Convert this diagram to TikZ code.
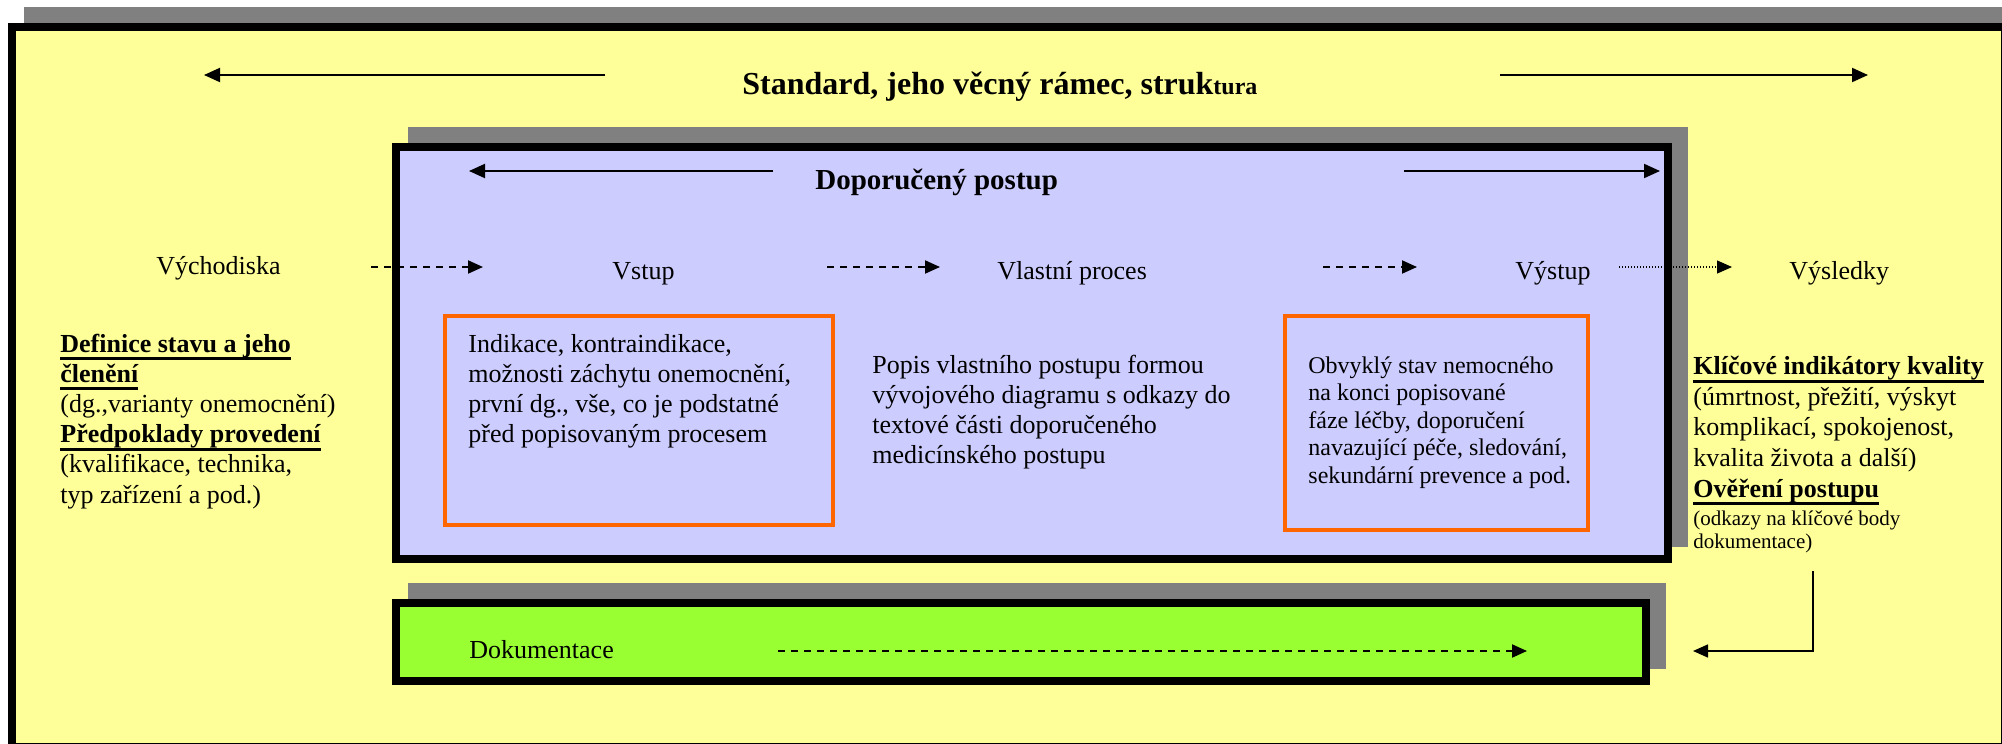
\documentclass[tikz,border=0pt]{standalone}
\usepackage{fontspec}
\setmainfont{Liberation Serif}
\usepackage{xcolor}
\usepackage{tikz}
\usetikzlibrary{shadows}
\usetikzlibrary{positioning, arrows.meta}

\definecolor{framefill}{HTML}{FFFF99}
\definecolor{procfill}{HTML}{CCCCFF}
\definecolor{docfill}{HTML}{99FF33}
\definecolor{shadowgray}{HTML}{808080}
\definecolor{boxorange}{HTML}{FF6600}

% bold text with a heavy underline
\newcommand{\ulbf}[1]{\setbox0=\hbox{\bfseries #1}\rlap{\rule[-4pt]{\wd0}{1.4pt}}\box0}

\begin{document}
\begin{tikzpicture}[x=0.5pt, y=-0.5pt,
        % Define styles for frames, boxes, texts and arrows
        bigframe/.style={draw, line width=4pt, rectangle, inner sep=0pt,
            general shadow={draw=shadowgray, fill=shadowgray, shadow xshift=8pt, shadow yshift=8pt}},
        notebox/.style={draw=boxorange, line width=1.75pt, rectangle, inner sep=0pt},
        steplabel/.style={inner sep=0pt, anchor=base west, font=\fontsize{13}{15}\selectfont},
        % multi-line texts: placed at the baseline of their last line
        para/.style={inner sep=0pt, anchor=base west, align=left, font=\fontsize{13}{15.1}\selectfont},
        solidarrow/.style={line width=1pt, -{Triangle[length=8pt, width=7pt]}},
        dasharrow/.style={line width=1pt, dash pattern=on 3.5pt off 3pt, -{Triangle[length=7.5pt, width=6.5pt]}},
        dotarrow/.style={line width=0.6pt, dash pattern=on 0.6pt off 0.9pt, -{Triangle[length=7.5pt, width=6.5pt]}},
        thinarrow/.style={line width=0.75pt, -{Triangle[length=7.5pt, width=6.5pt]}}
    ]
    \useasboundingbox (0,0) rectangle (2002,744);
    \clip (0,0) rectangle (2002,744);

    % --- FRAMES & BOXES ---
    % Standard frame
    \node[bigframe, fill=framefill, minimum width=996.5pt, minimum height=360pt] (std) at (1008.5,387) {};

    % Recommended procedure
    \node[bigframe, fill=procfill, minimum width=636pt, minimum height=206pt] (proc) at (1032,353) {};

    % Documentation
    \node[bigframe, fill=docfill, minimum width=625pt, minimum height=39pt] (doc) at (1021,642) {};

    % Input and output boxes
    \node[notebox, minimum width=194pt, minimum height=104.5pt] (inbox) at (639,420.5) {};
    \node[notebox, minimum width=151.5pt, minimum height=107pt] (outbox) at (1436.5,423) {};


    % --- TITLES ---
    \node[inner sep=0pt, anchor=base west, font=\fontsize{16}{19}\selectfont\bfseries] (title) at (742,94)
        {Standard, jeho věcný rámec, struk{\fontsize{12}{14}\selectfont tura}};
    \node[inner sep=0pt, anchor=base west, font=\fontsize{14.5}{17}\selectfont\bfseries] (dptitle) at (815,189)
        {Doporučený postup};


    % --- STEPS ---
    \node[steplabel] (vych) at (156,274) {Východiska};
    \node[steplabel] (vstup) at (612,279) {Vstup};
    \node[steplabel] (proces) at (997,279) {Vlastní proces};
    \node[steplabel] (vystup) at (1515,279) {Výstup};
    \node[steplabel] (vysl) at (1789,279) {Výsledky};
    \node[steplabel] (dokum) at (469,658) {Dokumentace};


    % --- TEXTS ---
    % Starting points
    \node[para] (defin) at (60,503)
        {\ulbf{Definice stavu a jeho}\\ \ulbf{členění}\\ (dg.,varianty onemocnění)\\
         \ulbf{Předpoklady provedení}\\ (kvalifikace, technika,\\ typ zařízení a pod.)};

    % Input
    \node[para, font=\fontsize{13}{15}\selectfont] (intext) at (468,442)
        {Indikace, kontraindikace,\\ možnosti záchytu onemocnění,\\ první dg., vše, co je podstatné\\ před popisovaným procesem};

    % Process
    \node[para, font=\fontsize{13}{15}\selectfont] (proctext) at (872,463)
        {Popis vlastního postupu formou\\ vývojového diagramu s odkazy do\\ textové části doporučeného\\ medicínského postupu};

    % Output
    \node[para, font=\fontsize{12}{13.75}\selectfont] (outtext) at (1308,483)
        {Obvyklý stav nemocného\\ na konci popisované\\ fáze léčby, doporučení\\ navazující péče, sledování,\\ sekundární prevence a pod.};

    % Results
    \node[para, font=\fontsize{13}{15.3}\selectfont] (kvalita) at (1693,497)
        {\ulbf{Klíčové indikátory kvality}\\ (úmrtnost, přežití, výskyt\\ komplikací, spokojenost,\\ kvalita života a další)\\ \ulbf{Ověření postupu}};
    \node[para, font=\fontsize{10.5}{11.5}\selectfont] (odkazy) at (1693,548)
        {(odkazy na klíčové body\\ dokumentace)};


    % --- ARROWS ---
    % arrow end points
    \coordinate (stdL1) at (605,75);
    \coordinate (stdL2) at (204,75);
    \coordinate (stdR1) at (1500,75);
    \coordinate (stdR2) at (1868,75);
    \coordinate (dpL1) at (773,171);
    \coordinate (dpL2) at (469,171);
    \coordinate (dpR1) at (1404,171);
    \coordinate (dpR2) at (1660,171);
    \coordinate (s1a) at (371,267);
    \coordinate (s1b) at (483,267);
    \coordinate (s2a) at (827,267);
    \coordinate (s2b) at (940,267);
    \coordinate (s3a) at (1323,267);
    \coordinate (s3b) at (1417,267);
    \coordinate (s4a) at (1619,267);
    \coordinate (s4b) at (1732,267);
    \coordinate (dka) at (778,651);
    \coordinate (dkb) at (1527,651);
    \coordinate (fba) at (1813,571);
    \coordinate (fbb) at (1693,651);

    % Standard and procedure extent
    \draw[solidarrow] (stdL1) -- (stdL2);
    \draw[solidarrow] (stdR1) -- (stdR2);
    \draw[solidarrow] (dpL1) -- (dpL2);
    \draw[solidarrow] (dpR1) -- (dpR2);

    % Steps
    \draw[dasharrow] (s1a) -- (s1b);
    \draw[dasharrow] (s2a) -- (s2b);
    \draw[dasharrow] (s3a) -- (s3b);
    \draw[dotarrow] (s4a) -- (s4b);

    % Documentation and feedback
    \draw[dasharrow] (dka) -- (dkb);
    \draw[thinarrow] (fba) |- (fbb);

\end{tikzpicture}
\end{document}
